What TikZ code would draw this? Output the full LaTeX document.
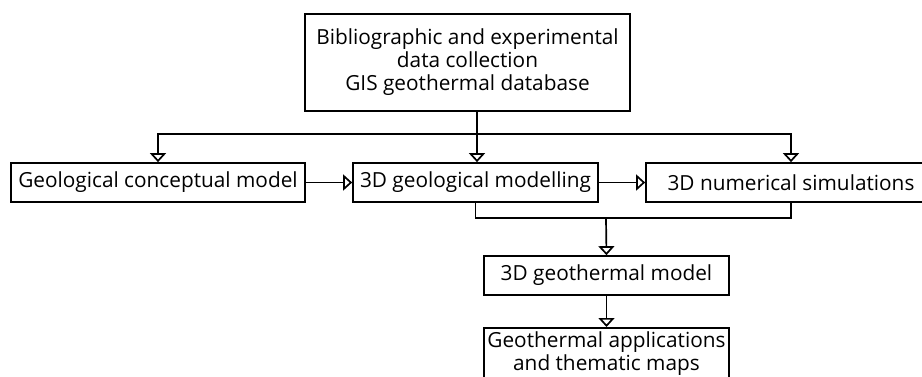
\documentclass[tikz,border=0pt]{standalone}
\usepackage{fontspec}
\setmainfont{Open Sans}
\usetikzlibrary{arrows.meta,calc}
\tikzset{
  lbl/.style={font=\fontsize{20.8}{23}\selectfont, align=center},
  box/.style={lbl, draw, line width=1.7pt, minimum height=39pt, inner sep=0pt},
  link/.style={line width=1.7pt},
  arr/.style={link, -{Triangle[open, length=9pt, width=16pt, fill=white]}},
}
\begin{document}
\begin{tikzpicture}[x=1pt, y=-1pt]
  \useasboundingbox (0,0) rectangle (922,376);
  \clip (0,0) rectangle (922,376);
  % boxes
  \node[box, minimum width=325pt, minimum height=97pt] (top) at (467.5,62.5)
    {Bibliographic and experimental\\data collection\\GIS geothermal database};
  \node[box, minimum width=294pt] (geo) at (158,182.5) {Geological conceptual model};
  \node[box, minimum width=245pt] (mod) at (475.5,182.5) {3D geological modelling};
  \node[box, minimum width=290pt] (num) at (791,182.5) {3D numerical simulations};
  \node[box, minimum width=245pt] (g3d) at (606.5,275.5) {3D geothermal model};
  \node[box, minimum width=245pt, minimum height=80pt, anchor=north] (app) at (606.5,327) {};
  \node[lbl, anchor=north, inner sep=0pt]
    (apptext) at ($(app.north)+(0,4)$) {Geothermal applications\\and thematic maps};
  % distribution from the data box
  \coordinate (split) at (477,134);
  \coordinate (join) at (606,218);
  \draw[link] (top.south -| split) -- (split);
  \draw[arr] (split) -| (geo.north);
  \draw[arr] (split) -| (num.north);
  \draw[arr] (split) -- (split |- mod.north);
  % chain
  \draw[arr] (geo.east) -- (mod.west);
  \draw[arr] (mod.east) -- (num.west);
  % merge into geothermal model
  \draw[link] (mod.south) |- (join) -| (num.south);
  \draw[arr] (join) -- (g3d.north);
  \draw[arr] (g3d.south) -- (app.north);
\end{tikzpicture}
\end{document}
